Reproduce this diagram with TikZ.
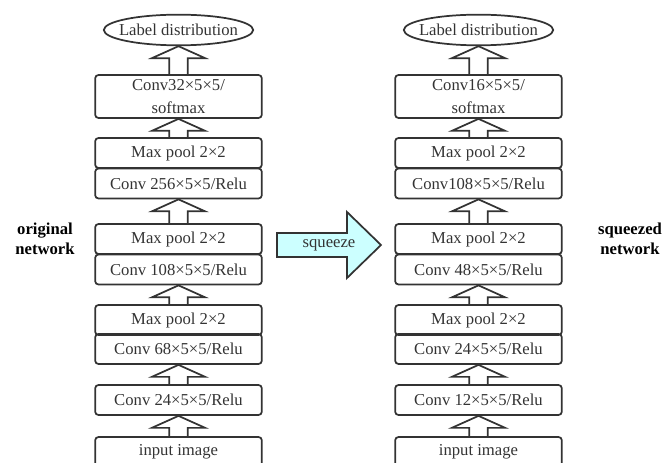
\documentclass[tikz,border=0pt]{standalone}
\usepackage{fontspec}
\setmainfont{Liberation Serif}
\usetikzlibrary{shapes.geometric,calc}
\definecolor{ink}{HTML}{333333}
\definecolor{squeezefill}{HTML}{CCFFFF}
% hollow block arrow from the lower box #1 up to the upper box #2
\newcommand{\flowarrow}[2]{%
  \draw[flow] ($(#1.north)+(-7pt,0pt)$) |- ($(#2.south)+(-20pt,-9pt)$) -- (#2.south)
    -- ($(#2.south)+(20pt,-9pt)$) -| ($(#1.north)+(7pt,0pt)$);}
\begin{document}
\begin{tikzpicture}[
    x=0.75pt,y=-0.75pt,
    netbox/.style={draw=ink,rounded corners=2.5pt,line width=1.3pt,minimum width=125pt,minimum height=22.5pt,inner sep=0pt,text=ink,font=\fontsize{12.5}{17}\selectfont,align=center},
    softbox/.style={netbox,minimum height=32.25pt},
    distnode/.style={ellipse,draw=ink,line width=1.3pt,minimum width=111pt,minimum height=23pt,inner xsep=-5pt,inner ysep=0pt,text=ink,font=\fontsize{12.5}{17}\selectfont},
    flow/.style={draw=ink,line width=1.3pt,line join=miter},
    squeezer/.style={draw=ink,fill=squeezefill,line width=1.3pt,line join=miter},
    side/.style={font=\fontsize{12.5}{15}\selectfont\bfseries,align=center,text=black},
]
\useasboundingbox (0,0) rectangle (664,463);

% original network
\node[distnode] at (178.5,30) (Ldist) {Label distribution};
\node[softbox] at (178.5,96.5) (Lsoft) {Conv32×5×5/\\softmax};
\node[netbox] at (178.5,153) (LpoolC) {Max pool 2×2};
\node[netbox] at (178.5,183.5) (LconvC) {Conv 256×5×5/Relu};
\node[netbox] at (178.5,239) (LpoolB) {Max pool 2×2};
\node[netbox] at (178.5,269.5) (LconvB) {Conv 108×5×5/Relu};
\node[netbox] at (178.5,320) (LpoolA) {Max pool 2×2};
\node[netbox] at (178.5,349) (LconvA) {Conv 68×5×5/Relu};
\node[netbox] at (178.5,400) (Lconv) {Conv 24×5×5/Relu};
\node[netbox] at (178.5,452) (Lin) {input image};

\flowarrow{Lsoft}{Ldist}
\flowarrow{LpoolC}{Lsoft}
\flowarrow{LpoolB}{LconvC}
\flowarrow{LpoolA}{LconvB}
\flowarrow{Lconv}{LconvA}
\flowarrow{Lin}{Lconv}

% squeezed network
\node[distnode] at (478.5,30) (Rdist) {Label distribution};
\node[softbox] at (478.5,96.5) (Rsoft) {Conv16×5×5/\\softmax};
\node[netbox] at (478.5,153) (RpoolC) {Max pool 2×2};
\node[netbox] at (478.5,183.5) (RconvC) {Conv108×5×5/Relu};
\node[netbox] at (478.5,239) (RpoolB) {Max pool 2×2};
\node[netbox] at (478.5,269.5) (RconvB) {Conv 48×5×5/Relu};
\node[netbox] at (478.5,320) (RpoolA) {Max pool 2×2};
\node[netbox] at (478.5,349) (RconvA) {Conv 24×5×5/Relu};
\node[netbox] at (478.5,400) (Rconv) {Conv 12×5×5/Relu};
\node[netbox] at (478.5,452) (Rin) {input image};

\flowarrow{Rsoft}{Rdist}
\flowarrow{RpoolC}{Rsoft}
\flowarrow{RpoolB}{RconvC}
\flowarrow{RpoolA}{RconvB}
\flowarrow{Rconv}{RconvA}
\flowarrow{Rin}{Rconv}

% squeeze arrow
\draw[squeezer] (277,233) -- (347,233) -- (347,212) -- (381,245) -- (347,278) -- (347,257) -- (277,257) -- cycle;
\node[text=ink,font=\fontsize{12.5}{15}\selectfont] at (329,245) (squeeze) {squeeze};

\node[side] at (45,239) (orig) {original\\network};
\node[side] at (630,239) (sq) {squeezed\\network};
\end{tikzpicture}
\end{document}
